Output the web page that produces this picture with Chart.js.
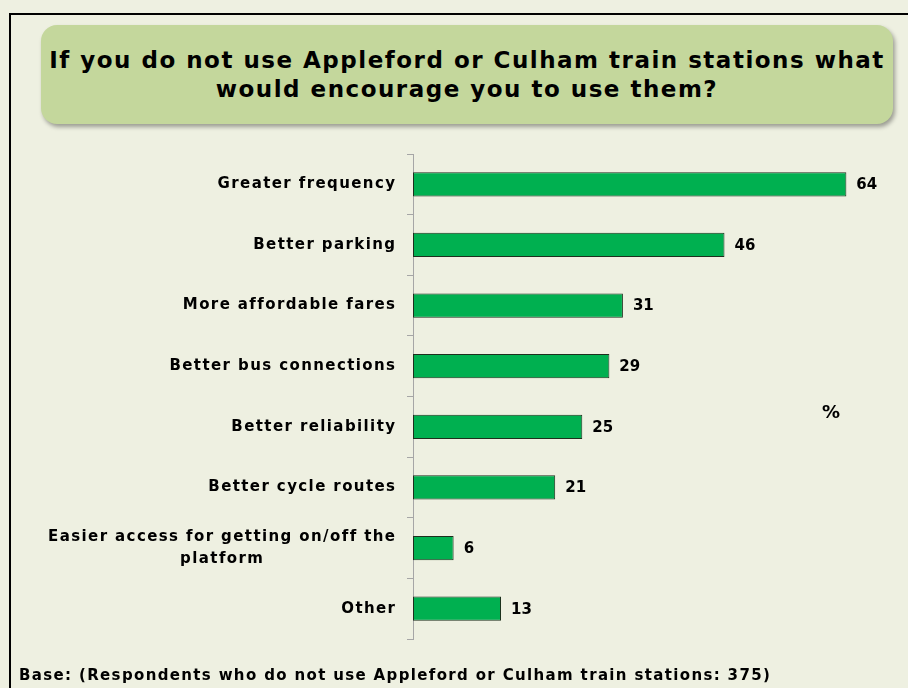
<!DOCTYPE html>
<html>
<head>
<meta charset="utf-8">
<script src="https://cdn.jsdelivr.net/npm/chart.js@4.4.1/dist/chart.umd.min.js"></script>
<style>
  html, body { margin: 0; padding: 0; background: #eef0e1; width: 908px; height: 688px; overflow: hidden; }
  body { position: relative; font-family: "DejaVu Sans", Verdana, sans-serif; }
  #frame { position: absolute; left: 9px; top: 13px; width: 1000px; height: 1000px; border: 2px solid #000; box-sizing: border-box; }
  #titleBox {
    position: absolute; left: 41px; top: 25px; width: 852px; height: 99px;
    background: #c4d79c; border-radius: 16px;
    box-shadow: 2px 3px 4px rgba(0, 0, 0, 0.35);
    display: flex; align-items: center; justify-content: center; text-align: center;
    font-weight: bold; font-size: 23px; line-height: 29px; letter-spacing: 1.5px; color: #000;
    white-space: nowrap;
  }
  #pct { position: absolute; left: 822px; top: 401px; font-weight: bold; font-size: 18px; letter-spacing: 1px; }
  #base { position: absolute; left: 19px; top: 666px; font-weight: bold; font-size: 15px; letter-spacing: 1.35px; white-space: nowrap; }
  #chart { position: absolute; left: 0; top: 0; }
</style>
</head>
<body>
<div id="frame"></div>
<div id="titleBox">If you do not use Appleford or Culham train stations what<br>would encourage you to use them?</div>
<canvas id="chart" width="908" height="688"></canvas>
<div id="pct">%</div>
<div id="base">Base: (Respondents who do not use Appleford or Culham train stations: 375)</div>
<script>
// chart data
const categories = [
    "Greater frequency",
    "Better parking",
    "More affordable fares",
    "Better bus connections",
    "Better reliability",
    "Better cycle routes",
    ["Easier access for getting on/off the", "platform"],
    "Other"
];
const percentages = [64, 46, 31, 29, 25, 21, 6, 13];
const axisMin = 0;
const axisMax = 70;

const labelFont = 'bold 15px "DejaVu Sans", Verdana, sans-serif';
const labelSpacing = 1.4;

// category names drawn left of the axis, multi-line ones centred as a block
const categoryLabels = {
    id: "categoryLabels",
    afterDraw(chart) {
        const ctx = chart.ctx;
        const yScale = chart.scales.y;
        const right = yScale.right - 18 + labelSpacing;
        const lineH = 22;
        ctx.save();
        ctx.font = labelFont;
        ctx.letterSpacing = labelSpacing + "px";
        ctx.fillStyle = "#000";
        ctx.textBaseline = "middle";
        ctx.textAlign = "center";
        categories.forEach((label, i) => {
            const lines = [].concat(label);
            const cy = yScale.getPixelForValue(i);
            const widest = Math.max(...lines.map(l => ctx.measureText(l).width));
            lines.forEach((l, j) => {
                ctx.fillText(l, right - widest / 2, cy + (j - (lines.length - 1) / 2) * lineH);
            });
        });
        ctx.restore();
    }
};

// value labels at the end of each bar
const valueLabels = {
    id: "valueLabels",
    afterDatasetsDraw(chart) {
        const ctx = chart.ctx;
        const meta = chart.getDatasetMeta(0);
        ctx.save();
        ctx.font = labelFont;
        ctx.fillStyle = "#000";
        ctx.textBaseline = "middle";
        ctx.textAlign = "left";
        meta.data.forEach((bar, i) => {
            ctx.fillText(String(percentages[i]), bar.x + 10, bar.y + 1);
        });
        ctx.restore();
    }
};

new Chart(document.getElementById("chart").getContext("2d"), {
    type: "bar",
    data: {
        labels: categories,
        datasets: [{
            data: percentages,
            backgroundColor: "#00b050",
            borderColor: "#1d2f1d",
            borderWidth: 1,
            borderSkipped: false,
            barPercentage: 0.4,
            categoryPercentage: 1
        }]
    },
    options: {
        indexAxis: "y",
        responsive: false,
        animation: false,
        layout: { padding: { top: 154, bottom: 49, right: 21, left: 0 } },
        plugins: {
            legend: { display: false },
            tooltip: { enabled: false }
        },
        scales: {
            x: { display: false, min: axisMin, max: axisMax },
            y: {
                grid: { offset: true, drawOnChartArea: false, tickLength: 6, color: "#a6a6a6" },
                border: { color: "#a6a6a6", width: 1 },
                ticks: { display: false },
                afterFit(scale) { scale.width = 413; }
            }
        }
    },
    plugins: [categoryLabels, valueLabels]
});
</script>
</body>
</html>
